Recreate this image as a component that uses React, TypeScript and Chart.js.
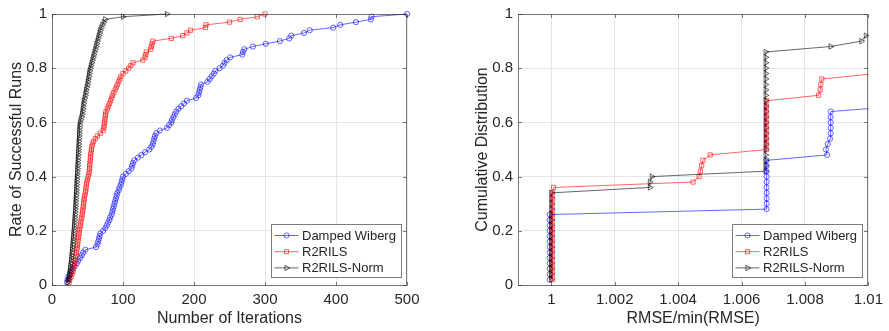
import React, { useEffect, useRef } from "react";
import { Chart, registerables } from "chart.js";

Chart.register(...registerables);

// ---------------- shared ----------------
const seriesNames = ["Damped Wiberg", "R2RILS", "R2RILS-Norm"];
const seriesColors = ["rgba(0,0,255,0.6)", "rgba(255,0,0,0.6)", "rgba(0,0,0,0.6)"];
const seriesMarkers = ["circle", "rect", "triangle"];

const FONT = '"Liberation Sans", Arial, Helvetica, sans-serif';
const TEXT_COLOR = "#262626";
const AXIS_COLOR = "rgba(38,38,38,0.6)";
const GRID_COLOR = "#e6e6e6";

const rateTicks = [0, 0.2, 0.4, 0.6, 0.8, 1];
const rateTickLabels = ["0", "0.2", "0.4", "0.6", "0.8", "1"];

// ---------------- left panel: iterations ----------------
const iterTicks = [0, 100, 200, 300, 400, 500];
const iterTickLabels = ["0", "100", "200", "300", "400", "500"];

const successRate = [
  0.01, 0.02, 0.03, 0.04, 0.05, 0.06, 0.07, 0.08, 0.09, 0.1,
  0.11, 0.12, 0.13, 0.14, 0.15, 0.16, 0.17, 0.18, 0.19, 0.2,
  0.21, 0.22, 0.23, 0.24, 0.25, 0.26, 0.27, 0.28, 0.29, 0.3,
  0.31, 0.32, 0.33, 0.34, 0.35, 0.36, 0.37, 0.38, 0.39, 0.4,
  0.41, 0.42, 0.43, 0.44, 0.45, 0.46, 0.47, 0.48, 0.49, 0.5,
  0.51, 0.52, 0.53, 0.54, 0.55, 0.56, 0.57, 0.58, 0.59, 0.6,
  0.61, 0.62, 0.63, 0.64, 0.65, 0.66, 0.67, 0.68, 0.69, 0.7,
  0.71, 0.72, 0.73, 0.74, 0.75, 0.76, 0.77, 0.78, 0.79, 0.8,
  0.81, 0.82, 0.83, 0.84, 0.85, 0.86, 0.87, 0.88, 0.89, 0.9,
  0.91, 0.92, 0.93, 0.94, 0.95, 0.96, 0.97, 0.98, 0.99, 1.0,
];

const dampedIters = [
  21, 22, 23, 25, 27, 29, 32, 35, 37, 40,
  42, 44, 47, 62, 64, 65, 66, 67, 68, 72,
  75, 77, 79, 81, 82, 84, 85, 86, 87, 88,
  89, 90, 91, 92, 94, 95, 97, 98, 99, 100,
  104, 108, 112, 113, 114, 116, 121, 126, 131, 137,
  140, 142, 143, 144, 145, 147, 152, 162, 165, 168,
  169, 171, 173, 175, 178, 182, 186, 190, 203, 206,
  207, 208, 209, 210, 219, 222, 225, 228, 230, 236,
  241, 243, 246, 251, 268, 269, 271, 283, 301, 321,
  334, 337, 355, 363, 396, 406, 428, 449, 450, 500,
];

const r2rilsIters = [
  24, 25, 27, 28, 29.5, 30.5, 31, 32, 32.5, 33,
  34, 34.5, 35, 35.5, 36, 36.5, 37, 37.5, 38, 38.5,
  39, 40, 40.5, 41, 42, 42.5, 43, 43.5, 44, 44.5,
  45, 45.5, 46, 47, 47.5, 48, 48.5, 49, 50, 51,
  52, 52.5, 53, 53, 53.5, 54, 54, 54.5, 55, 55.5,
  56, 57, 58.5, 61, 64, 68, 72, 73, 73.5, 74,
  74.5, 75, 75.5, 76, 78, 79.5, 81, 82.5, 84, 85,
  87, 89, 90.5, 92, 94, 95.5, 97, 100, 104, 108,
  111, 114, 128, 131, 132, 133, 139, 140, 141, 142,
  168, 184, 190, 195, 216, 217, 250, 265, 289, 300,
];

const r2rilsNormIters = [
  22, 23, 24, 24.5, 25, 25.5, 26, 26.5, 27, 27.3,
  27.6, 28, 28.3, 28.6, 29, 29.3, 29.6, 30, 30.3, 30.6,
  31, 31.2, 31.5, 31.8, 32, 32.3, 32.6, 32.8, 33, 33.2,
  33.4, 33.6, 33.8, 34, 34.2, 34.4, 34.6, 34.8, 35, 35.2,
  35.4, 35.6, 35.8, 36, 36.2, 36.4, 36.6, 36.8, 37, 37.2,
  37.4, 37.6, 37.8, 38, 38.2, 38.4, 38.6, 38.8, 39, 39.5,
  40.5, 41.5, 42.5, 43, 43.5, 44, 44.5, 45, 46, 47,
  47.5, 48, 49, 50, 50.5, 51, 52, 52.5, 53, 54,
  55, 56, 57, 58, 59, 60, 61, 62, 63, 64,
  65, 66, 67, 68, 69.5, 71, 73, 75, 100, 162,
];

// ---------------- right panel: RMSE ratio ----------------
const ratioTicks = [1, 1.002, 1.004, 1.006, 1.008, 1.01];
const ratioTickLabels = ["1", "1.002", "1.004", "1.006", "1.008", "1.01"];

const dampedRatio = [
  0.99995, 0.99995, 0.99995, 0.99995, 0.99995, 0.99995, 0.99995, 0.99995, 0.99995, 0.99995, 0.99995, 0.99995, 0.99995,
  1.00679, 1.00679, 1.00679, 1.00679, 1.00679, 1.00679, 1.00679, 1.00679, 1.00679, 1.00679,
  1.0087, 1.00866, 1.00872, 1.00879, 1.00881, 1.00881, 1.00881, 1.00881, 1.00881,
  1.011,
];
const dampedCdf = [
  0.02, 0.04, 0.06, 0.08, 0.1, 0.12, 0.14, 0.16, 0.18, 0.2, 0.22, 0.24, 0.26,
  0.28, 0.3, 0.32, 0.34, 0.36, 0.38, 0.4, 0.42, 0.44, 0.46,
  0.48, 0.5, 0.52, 0.54, 0.56, 0.58, 0.6, 0.62, 0.64,
  0.66,
];

const r2rilsRatio = [
  1.00004, 1.00004, 1.00004, 1.00004, 1.00004, 1.00004, 1.00004, 1.00004, 1.00004,
  1.00004, 1.00004, 1.00004, 1.00004, 1.00004, 1.00004, 1.00004, 1.00004,
  1.00007,
  1.00447, 1.00466, 1.0047, 1.00474, 1.00478, 1.00501,
  1.00679, 1.00679, 1.00679, 1.00679, 1.00679, 1.00679, 1.00679, 1.00679, 1.00679, 1.00679,
  1.00843, 1.00848, 1.0085, 1.00853,
  1.0102,
];
const r2rilsCdf = [
  0.02, 0.04, 0.06, 0.08, 0.1, 0.12, 0.14, 0.16, 0.18,
  0.2, 0.22, 0.24, 0.26, 0.28, 0.3, 0.32, 0.34,
  0.36,
  0.38, 0.4, 0.42, 0.44, 0.46, 0.48,
  0.5, 0.52, 0.54, 0.56, 0.58, 0.6, 0.62, 0.64, 0.66, 0.68,
  0.7, 0.72, 0.74, 0.76,
  0.78,
];

const r2rilsNormRatio = [
  1, 1, 1, 1, 1, 1, 1, 1, 1, 1, 1, 1, 1, 1, 1, 1, 1,
  1.00311, 1.00311, 1.00317,
  1.00676, 1.00676, 1.00676, 1.00676, 1.00676, 1.00676, 1.00676, 1.00676,
  1.00676, 1.00676, 1.00676, 1.00676, 1.00676, 1.00676, 1.00676, 1.00676,
  1.00676, 1.00676, 1.00676, 1.00676, 1.00676, 1.00676, 1.00676,
  1.00881, 1.00978, 1.00992,
  1.0112,
];
const r2rilsNormCdf = [
  0.02, 0.04, 0.06, 0.08, 0.1, 0.12, 0.14, 0.16, 0.18, 0.2, 0.22, 0.24, 0.26, 0.28, 0.3, 0.32, 0.34,
  0.36, 0.38, 0.4,
  0.42, 0.44, 0.46, 0.48, 0.5, 0.52, 0.54, 0.56,
  0.58, 0.6, 0.62, 0.64, 0.66, 0.68, 0.7, 0.72,
  0.74, 0.76, 0.78, 0.8, 0.82, 0.84, 0.86,
  0.88, 0.9, 0.92,
  0.94,
];

// ---------------- drawing helpers ----------------
function markerPath(ctx: CanvasRenderingContext2D, style: string, x: number, y: number, r: number) {
  ctx.beginPath();
  if (style === "circle") {
    ctx.arc(x, y, r, 0, Math.PI * 2);
  } else if (style === "rect") {
    const s = r * Math.SQRT1_2;
    ctx.rect(x - s, y - s, 2 * s, 2 * s);
  } else {
    let rad = Math.PI / 2;
    ctx.moveTo(x + Math.sin(rad) * r, y - Math.cos(rad) * r);
    rad += (2 * Math.PI) / 3;
    ctx.lineTo(x + Math.sin(rad) * r, y - Math.cos(rad) * r);
    rad += (2 * Math.PI) / 3;
    ctx.lineTo(x + Math.sin(rad) * r, y - Math.cos(rad) * r);
    ctx.closePath();
  }
  ctx.stroke();
}

const markerRadius: Record<string, number> = { circle: 2.6, rect: 3, triangle: 3.2 };

const framePlugin = {
  id: "matlabFrame",
  afterDatasetsDraw(chart: any) {
    const { ctx, chartArea: a } = chart;
    const xs = chart.scales.x;
    const ys = chart.scales.y;
    ctx.save();
    ctx.strokeStyle = AXIS_COLOR;
    ctx.lineWidth = 1;
    const L = Math.round(a.left) + 0.5;
    const R = Math.round(a.right) - 0.5;
    const T = Math.round(a.top) + 0.5;
    const B = Math.round(a.bottom) + 0.5;
    ctx.strokeRect(L, T, R - L, B - T);
    const tl = 3.5;
    ctx.beginPath();
    xs.ticks.forEach((t: any) => {
      const px = Math.round(xs.getPixelForValue(t.value)) + 0.5;
      ctx.moveTo(px, B);
      ctx.lineTo(px, B - tl);
      ctx.moveTo(px, T);
      ctx.lineTo(px, T + tl);
    });
    ys.ticks.forEach((t: any) => {
      const py = Math.round(ys.getPixelForValue(t.value)) + 0.5;
      ctx.moveTo(L, py);
      ctx.lineTo(L + tl, py);
      ctx.moveTo(R, py);
      ctx.lineTo(R - tl, py);
    });
    ctx.stroke();

    // legend (inside, bottom-right)
    const w = 130;
    const h = 53;
    const bx = Math.round(a.right - 6 - w) + 0.5;
    const by = Math.round(a.bottom - 8 - h) + 0.5;
    ctx.fillStyle = "#ffffff";
    ctx.fillRect(bx, by, w, h);
    ctx.strokeStyle = AXIS_COLOR;
    ctx.strokeRect(bx, by, w, h);
    ctx.font = `13px ${FONT}`;
    ctx.textBaseline = "middle";
    ctx.textAlign = "left";
    seriesNames.forEach((name, i) => {
      const cy = by + 11 + i * 16.2;
      ctx.strokeStyle = seriesColors[i];
      ctx.lineWidth = 1;
      ctx.beginPath();
      ctx.moveTo(bx + 3, cy);
      ctx.lineTo(bx + 27, cy);
      ctx.stroke();
      markerPath(ctx, seriesMarkers[i], bx + 15, cy, markerRadius[seriesMarkers[i]]);
      ctx.fillStyle = TEXT_COLOR;
      ctx.fillText(name, bx + 30.5, cy + 0.5);
    });
    ctx.restore();
  },
};

type PanelDef = {
  left: number;
  width: number;
  padRight: number;
  xMin: number;
  xMax: number;
  xTicks: number[];
  xLabels: string[];
  xTitle: string;
  yTitle: string;
  series: { xs: number[]; ys: number[] }[];
  clipRight: number;
};

function buildConfig(p: PanelDef): any {
  const datasets = p.series.map((s, i) => ({
    label: seriesNames[i],
    data: s.xs.map((x, k) => ({ x, y: s.ys[k] })),
    borderColor: seriesColors[i],
    borderWidth: 1,
    backgroundColor: "rgba(0,0,0,0)",
    pointStyle: seriesMarkers[i],
    pointRotation: seriesMarkers[i] === "triangle" ? 90 : 0,
    pointRadius: markerRadius[seriesMarkers[i]],
    pointBorderWidth: 1,
    pointBorderColor: seriesColors[i],
    pointBackgroundColor: "rgba(0,0,0,0)",
    tension: 0,
    fill: false,
    showLine: true,
    order: 3 - i,
    clip: { left: 4, top: 4, right: p.clipRight, bottom: 4 },
  }));
  const tickFont = { family: FONT, size: 15 };
  const titleFont = { family: FONT, size: 16 };
  return {
    type: "line",
    data: { datasets },
    plugins: [framePlugin],
    options: {
      responsive: false,
      animation: false,
      events: [],
      layout: { padding: { left: 0, top: 10, right: p.padRight, bottom: 0 } },
      plugins: { legend: { display: false }, tooltip: { enabled: false } },
      scales: {
        x: {
          type: "linear",
          min: p.xMin,
          max: p.xMax,
          afterBuildTicks: (s: any) => {
            s.ticks = p.xTicks.map((v) => ({ value: v }));
          },
          afterFit: (s: any) => {
            s.height = 46;
          },
          grid: { color: GRID_COLOR, lineWidth: 1, drawTicks: false },
          border: { display: false },
          ticks: {
            padding: 6,
            color: TEXT_COLOR,
            font: tickFont,
            maxRotation: 0,
            autoSkip: false,
            callback: (_v: any, i: number) => p.xLabels[i],
          },
          title: {
            display: true,
            text: p.xTitle,
            color: TEXT_COLOR,
            font: titleFont,
            padding: { top: 0, bottom: 3 },
          },
        },
        y: {
          type: "linear",
          min: 0,
          max: 1,
          afterBuildTicks: (s: any) => {
            s.ticks = rateTicks.map((v) => ({ value: v }));
          },
          afterFit: (s: any) => {
            s.width = 52;
          },
          grid: { color: GRID_COLOR, lineWidth: 1, drawTicks: false },
          border: { display: false },
          ticks: {
            padding: 5,
            color: TEXT_COLOR,
            font: tickFont,
            autoSkip: false,
            callback: (_v: any, i: number) => rateTickLabels[i],
          },
          title: {
            display: true,
            text: p.yTitle,
            color: TEXT_COLOR,
            font: titleFont,
            padding: { top: 7, bottom: 0 },
          },
        },
      },
    },
  };
}

function Panel({ def }: { def: PanelDef }) {
  const ref = useRef<HTMLCanvasElement | null>(null);
  useEffect(() => {
    if (!ref.current) return;
    const chart = new Chart(ref.current, buildConfig(def));
    return () => chart.destroy();
  }, []);
  return (
    <canvas
      ref={ref}
      width={def.width}
      height={331}
      style={{ position: "absolute", left: def.left, top: 0, width: def.width, height: 331 }}
    />
  );
}

const leftPanel: PanelDef = {
  left: 0,
  width: 466,
  padRight: 59,
  xMin: 0,
  xMax: 500,
  xTicks: iterTicks,
  xLabels: iterTickLabels,
  xTitle: "Number of Iterations",
  yTitle: "Rate of Successful Runs",
  series: [
    { xs: dampedIters, ys: successRate },
    { xs: r2rilsIters, ys: successRate },
    { xs: r2rilsNormIters, ys: successRate },
  ],
  clipRight: 4,
};

const rightPanel: PanelDef = {
  left: 466,
  width: 423,
  padRight: 17,
  xMin: 0.99895,
  xMax: 1.01,
  xTicks: ratioTicks,
  xLabels: ratioTickLabels,
  xTitle: "RMSE/min(RMSE)",
  yTitle: "Cumulative Distribution",
  series: [
    { xs: dampedRatio, ys: dampedCdf },
    { xs: r2rilsRatio, ys: r2rilsCdf },
    { xs: r2rilsNormRatio, ys: r2rilsNormCdf },
  ],
  clipRight: 0,
};

export default function App() {
  return (
    <div style={{ position: "absolute", left: 0, top: 0, width: 889, height: 331, background: "#ffffff" }}>
      <Panel def={leftPanel} />
      <Panel def={rightPanel} />
    </div>
  );
}
